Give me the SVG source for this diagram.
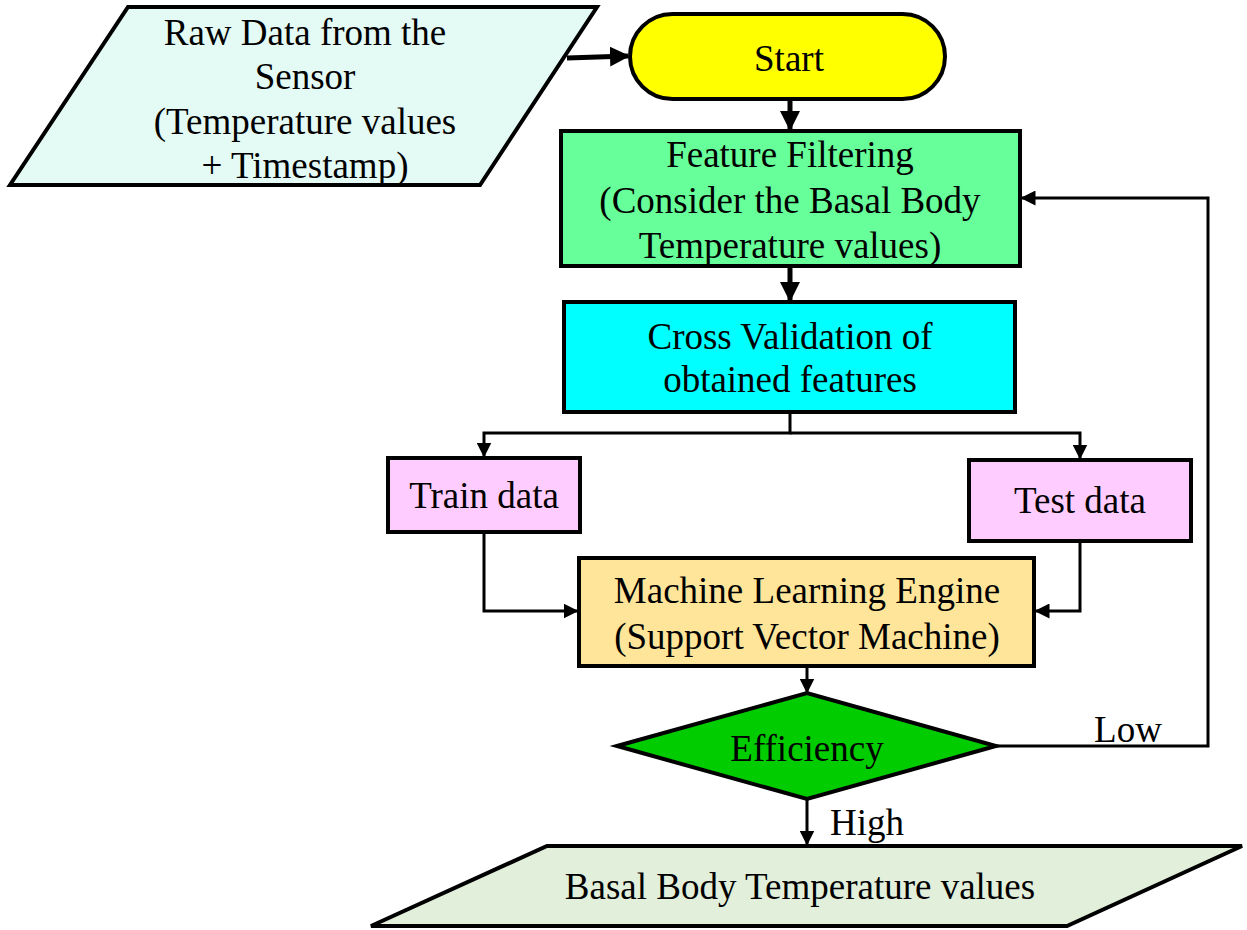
<svg xmlns="http://www.w3.org/2000/svg" width="1247" height="930" viewBox="0 0 1247 930">
<defs>
<marker id="ah" viewBox="0 0 10 10" refX="9" refY="5" markerWidth="4" markerHeight="4" markerUnits="strokeWidth" orient="auto">
<path d="M0,0 L10,5 L0,10 z" fill="#000"/>
</marker>
<marker id="ahs" viewBox="0 0 10 10" refX="9" refY="5" markerWidth="5" markerHeight="5" markerUnits="strokeWidth" orient="auto">
<path d="M0,0 L10,5 L0,10 z" fill="#000"/>
</marker>
<style>
.n{stroke:#000;stroke-width:4}
.t{font-family:"Liberation Serif","Times New Roman",serif;font-size:37px;fill:#000;text-anchor:middle}
.c{fill:none;stroke:#000;stroke-width:3}
.ct{fill:none;stroke:#000;stroke-width:5}
</style>
</defs>
<rect width="1247" height="930" fill="#fff"/>
<g id="connectors">
<path class="ct" d="M567,58 L628,56" marker-end="url(#ah)"/>
<path class="ct" d="M790,99 L790,129" marker-end="url(#ah)"/>
<path class="ct" d="M790,266 L790,300" marker-end="url(#ah)"/>
<path class="c" d="M790,413 L790,433 L484,433 L484,456" marker-end="url(#ahs)"/>
<path class="c" d="M790,433 L1080,433 L1080,458" marker-end="url(#ahs)"/>
<path class="c" d="M484,532 L484,611 L577,611" marker-end="url(#ahs)"/>
<path class="c" d="M1080,541 L1080,611 L1036,611" marker-end="url(#ahs)"/>
<path class="c" d="M807,666 L807,692" marker-end="url(#ahs)"/>
<path class="c" d="M996,746 L1208,746 L1208,198 L1022,198" marker-end="url(#ahs)"/>
<path class="c" d="M807,799 L807,844" marker-end="url(#ahs)"/>
<text class="t" x="1128" y="742">Low</text>
<text class="t" x="867" y="835">High</text>
</g>
<g id="raw">
<polygon class="n" points="128,7 597,7 480,185 10,185" fill="#E3FAF5"/>
<text class="t" x="305" y="45">Raw Data from the</text>
<text class="t" x="305" y="89">Sensor</text>
<text class="t" x="305" y="134">(Temperature values</text>
<text class="t" x="305" y="178">+ Timestamp)</text>
</g>
<g id="start">
<rect class="n" x="630" y="14" width="315" height="85" rx="42.5" fill="#FFFF00"/>
<text class="t" x="789" y="71">Start</text>
</g>
<g id="feature">
<rect class="n" x="561" y="131" width="459" height="135" fill="#66FF99"/>
<text class="t" x="790" y="167">Feature Filtering</text>
<text class="t" x="790" y="213">(Consider the Basal Body</text>
<text class="t" x="790" y="258">Temperature values)</text>
</g>
<g id="cross">
<rect class="n" x="564" y="302" width="451" height="110" fill="#00FFFF"/>
<text class="t" x="790" y="349">Cross Validation of</text>
<text class="t" x="790" y="392">obtained features</text>
</g>
<g id="train">
<rect class="n" x="388" y="458" width="192" height="74" fill="#FFCCFF"/>
<text class="t" x="484" y="508">Train data</text>
</g>
<g id="test">
<rect class="n" x="969" y="460" width="222" height="81" fill="#FFCCFF"/>
<text class="t" x="1080" y="513">Test data</text>
</g>
<g id="ml">
<rect class="n" x="579" y="558" width="455" height="108" fill="#FFE599"/>
<text class="t" x="807" y="603">Machine Learning Engine</text>
<text class="t" x="807" y="649">(Support Vector Machine)</text>
</g>
<g id="efficiency">
<polygon class="n" points="617,746 807,693 996,746 807,799" fill="#00CC00"/>
<text class="t" x="807" y="761">Efficiency</text>
</g>
<g id="output">
<polygon class="n" points="547,846 1242,846 1067,926 371,926" fill="#E2EFDA"/>
<text class="t" x="800" y="899">Basal Body Temperature values</text>
</g>
</svg>
